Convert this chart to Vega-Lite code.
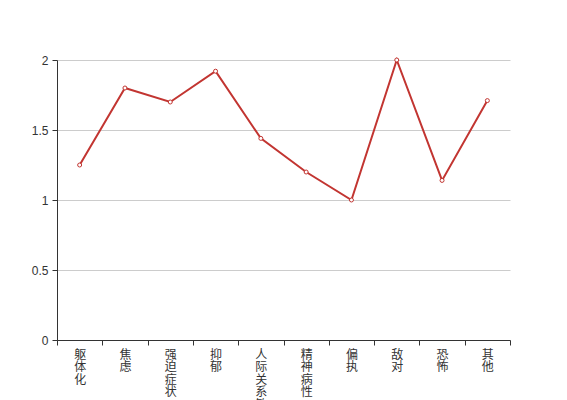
{
  "$schema": "https://vega.github.io/schema/vega-lite/v6.json",
  "width": 453,
  "height": 280,
  "padding": {"left": 57, "top": 60, "right": 57, "bottom": 60},
  "autosize": "none",
  "background": "white",
  "data": {"values": [
    {"factor": "躯体化", "score": 1.25},
    {"factor": "焦虑", "score": 1.8},
    {"factor": "强迫症状", "score": 1.7},
    {"factor": "抑郁", "score": 1.92},
    {"factor": "人际关系敏感", "score": 1.44},
    {"factor": "精神病性", "score": 1.2},
    {"factor": "偏执", "score": 1.0},
    {"factor": "敌对", "score": 2.0},
    {"factor": "恐怖", "score": 1.14},
    {"factor": "其他", "score": 1.71}
  ]},
  "config": {
    "view": {"stroke": null},
    "font": "Noto Sans CJK SC"
  },
  "encoding": {
    "x": {
      "field": "factor", "type": "nominal", "sort": null,
      "scale": {"type": "band", "paddingInner": 0, "paddingOuter": 0},
      "axis": {
        "title": null, "labelAngle": 0, "tickBand": "extent",
        "labelExpr": "split(datum.label, '')",
        "labelLineHeight": 12.5, "labelBaseline": "top", "labelPadding": 4,
        "labelFontSize": 12, "labelColor": "#333", "labelFont": "Noto Sans CJK SC",
        "domainColor": "#333", "tickColor": "#333", "tickSize": 5,
        "grid": false, "labelOverlap": false
      }
    },
    "y": {
      "field": "score", "type": "quantitative",
      "scale": {"domain": [0, 2]},
      "axis": {
        "title": null, "values": [0, 0.5, 1, 1.5, 2], "format": "~g", "labelFontSize": 12,
        "labelColor": "#333", "labelFont": "Liberation Sans", "labelPadding": 4,
        "domainColor": "#333", "tickColor": "#333", "tickSize": 5,
        "gridColor": "#ccc", "gridWidth": 1
      }
    }
  },
  "layer": [
    {"mark": {"type": "line", "color": "#c23531", "strokeWidth": 2}},
    {"mark": {"type": "point", "filled": true, "fill": "white", "stroke": "#c23531", "strokeWidth": 1, "size": 16, "opacity": 1}}
  ]
}
